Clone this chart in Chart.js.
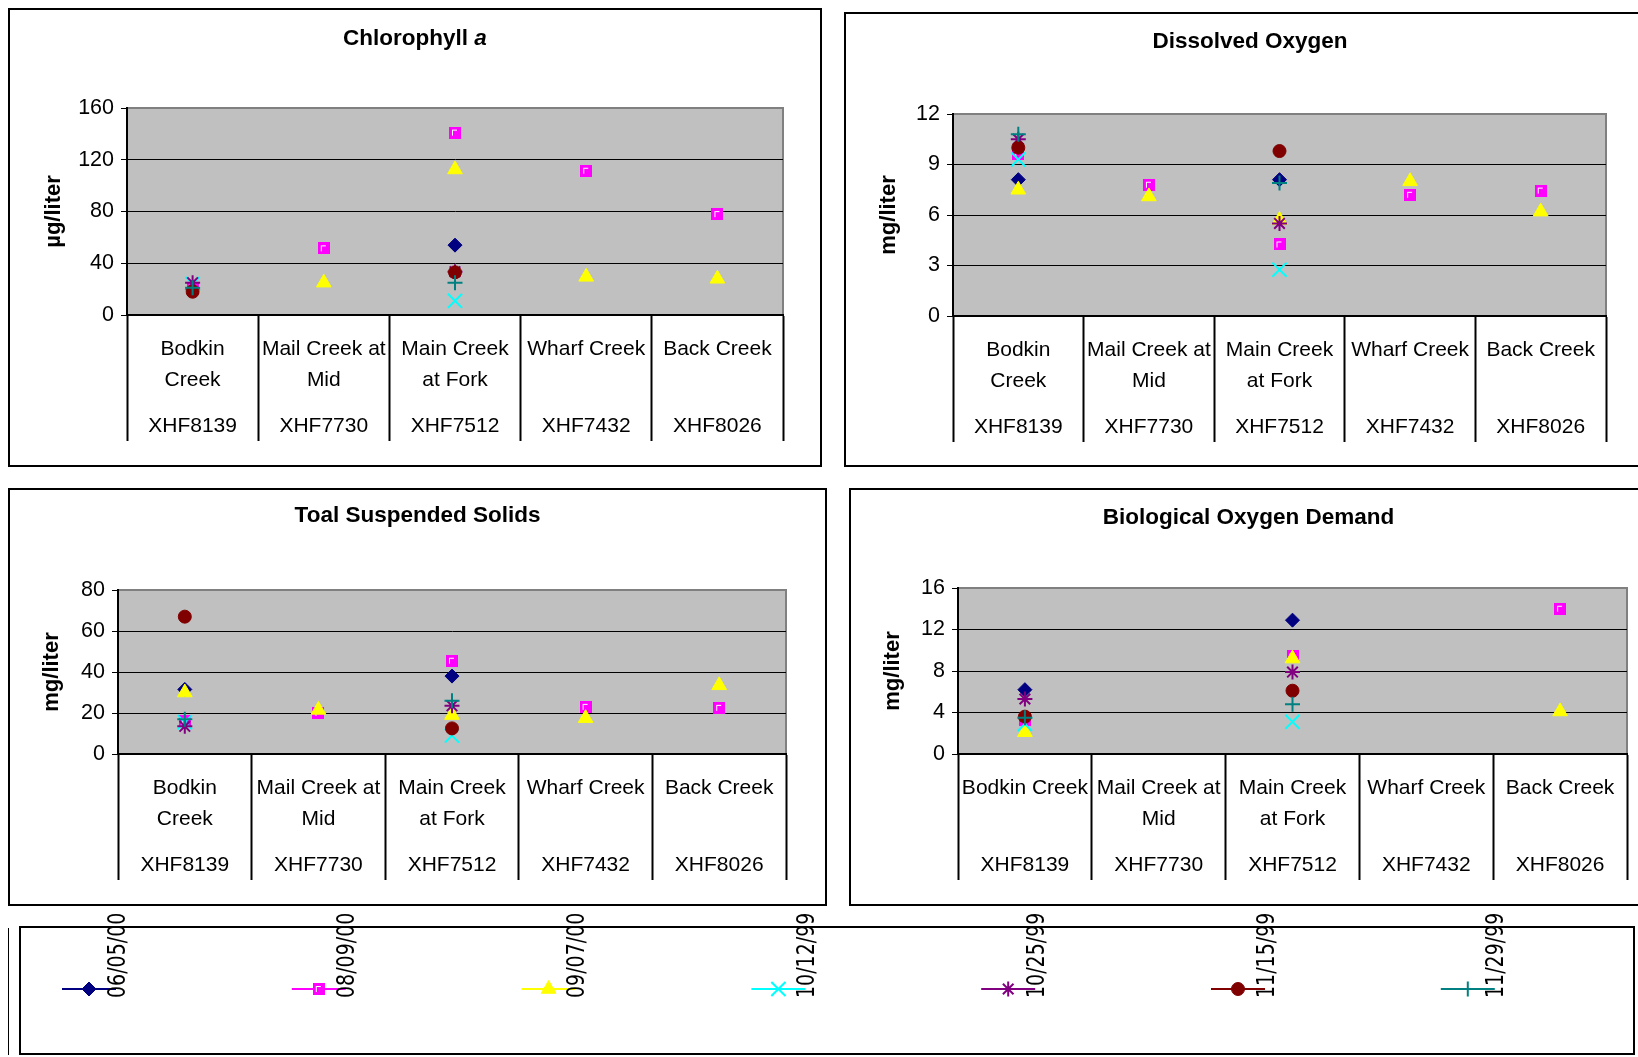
<!DOCTYPE html>
<html>
<head>
<meta charset="utf-8">
<script src="https://cdn.jsdelivr.net/npm/chart.js@4.4.1/dist/chart.umd.min.js"></script>
<style>
html, body { margin: 0; padding: 0; background: #fff; overflow: hidden; width: 1638px; height: 1057px; }
.frame { position: absolute; border: 2px solid #000; box-sizing: border-box; }
canvas { position: absolute; }
</style>
</head>
<body>
<script>
// categories
const sites = [['Bodkin', 'Creek'], ['Mail Creek at', 'Mid'], ['Main Creek', 'at Fork'], ['Wharf Creek'], ['Back Creek']];
const sitesBod = [['Bodkin Creek'], ['Mail Creek at', 'Mid'], ['Main Creek', 'at Fork'], ['Wharf Creek'], ['Back Creek']];
const siteCodes = ['XHF8139', 'XHF7730', 'XHF7512', 'XHF7432', 'XHF8026'];
const sampleDates = ['06/05/00', '08/09/00', '09/07/00', '10/12/99', '10/25/99', '11/15/99', '11/29/99'];

// one row per sample date, one column per site
const chlorophyll = [
    [20, null, 54, null, null],
    [21, 51.5, 141, 111.5, 78],
    [21, 25, 112.5, 29.5, 28],
    [24, null, 11, null, null],
    [25, null, 33.5, null, null],
    [18, null, 33, null, null],
    [21, null, 25, null, null]
];
const dissolvedOxygen = [
    [8.1, null, 8.1, null, null],
    [9.6, 7.8, 4.25, 7.2, 7.45],
    [7.5, 7.1, 5.7, 8.0, 6.2],
    [9.3, null, 2.75, null, null],
    [10.5, null, 5.5, null, null],
    [10.0, null, 9.8, null, null],
    [10.8, null, 7.9, null, null]
];
const suspendedSolids = [
    [31.5, null, 38, null, null],
    [16, 20, 45.5, 23, 22.5],
    [30, 21.5, 19, 17.5, 33.5],
    [15.5, null, 9, null, null],
    [13.5, null, 23.5, null, null],
    [67, null, 12.5, null, null],
    [17, null, 26, null, null]
];
const oxygenDemand = [
    [6.2, null, 12.9, null, null],
    [3.3, null, 9.4, null, 14],
    [2.1, null, 9.2, null, 4.1],
    [2.9, null, 3.1, null, null],
    [5.3, null, 7.9, null, null],
    [3.6, null, 6.1, null, null],
    [3.5, null, 4.8, null, null]
];

const AXIS_DEPTH = 126;
const FONT = '"Liberation Sans", Arial, sans-serif';
Chart.defaults.font.family = FONT;
Chart.defaults.color = '#000';

function squareMarker() {
    const c = document.createElement('canvas');
    c.width = 12; c.height = 12;
    const g = c.getContext('2d');
    g.fillStyle = '#ff00ff';
    g.fillRect(0, 0, 12, 12);
    g.fillStyle = '#ffffff';
    g.fillRect(3, 3, 5, 1);
    g.fillRect(3, 3, 1, 6);
    return c;
}

const seriesColors = ['#000080', '#ff00ff', '#ffff00', '#00ffff', '#800080', '#800000', '#008080'];
const seriesMarkers = ['rectRot', squareMarker(), 'triangle', 'crossRot', 'star', 'circle', 'cross'];
const markerRadius = [7, 7, 8.5, 10, 7.5, 6.5, 7.5];
const markerLine = [1, 1, 1, 2, 2, 1, 2];

function seriesFor(rows) {
    return sampleDates.map((d, i) => ({
        label: d,
        data: rows[i],
        order: sampleDates.length - i,
        showLine: false,
        borderColor: seriesColors[i],
        backgroundColor: seriesColors[i],
        pointBackgroundColor: seriesColors[i],
        pointBorderColor: seriesColors[i],
        pointStyle: seriesMarkers[i],
        pointRadius: markerRadius[i],
        pointHoverRadius: markerRadius[i],
        pointBorderWidth: markerLine[i]
    }));
}

// grey plot area
const plotBackground = {
    id: 'plotBackground',
    beforeDraw(chart) {
        const { ctx, chartArea: a } = chart;
        ctx.save();
        ctx.fillStyle = '#c0c0c0';
        ctx.fillRect(a.left, a.top, a.width, a.height);
        ctx.strokeStyle = '#808080';
        ctx.lineWidth = 2;
        ctx.strokeRect(a.left, a.top, a.width, a.height);
        ctx.restore();
    }
};

// bold title, parts can be italic
const panelTitle = {
    id: 'panelTitle',
    afterDraw(chart, args, opts) {
        const ctx = chart.ctx;
        const fonts = opts.parts.map(p => (p.italic ? 'italic ' : '') + 'bold 22.5px ' + FONT);
        ctx.save();
        ctx.textBaseline = 'middle';
        ctx.fillStyle = '#000';
        let total = 0;
        const widths = opts.parts.map((p, i) => {
            ctx.font = fonts[i];
            const w = ctx.measureText(p.text).width;
            total += w;
            return w;
        });
        let x = chart.width / 2 - total / 2;
        opts.parts.forEach((p, i) => {
            ctx.font = fonts[i];
            ctx.fillText(p.text, x, opts.y);
            x += widths[i];
        });
        ctx.restore();
    }
};

const panels = [
    { title: [{ text: 'Chlorophyll ' }, { text: 'a', italic: true }], yTitle: 'µg/liter', yMax: 160, yStep: 40,
      rows: chlorophyll, names: sites,
      box: { x: 8, y: 8, w: 814, h: 459 }, plot: { l: 127, t: 108, r: 783, b: 315 }, titleY: 39, yTitleX: 54 },
    { title: [{ text: 'Dissolved Oxygen' }], yTitle: 'mg/liter', yMax: 12, yStep: 3,
      rows: dissolvedOxygen, names: sites,
      box: { x: 844, y: 12, w: 812, h: 455 }, plot: { l: 953, t: 114, r: 1606, b: 316 }, titleY: 42, yTitleX: 889 },
    { title: [{ text: 'Toal Suspended Solids' }], yTitle: 'mg/liter', yMax: 80, yStep: 20,
      rows: suspendedSolids, names: sites,
      box: { x: 8, y: 488, w: 819, h: 418 }, plot: { l: 118, t: 590, r: 786, b: 754 }, titleY: 516, yTitleX: 52 },
    { title: [{ text: 'Biological Oxygen Demand' }], yTitle: 'mg/liter', yMax: 16, yStep: 4,
      rows: oxygenDemand, names: sitesBod,
      box: { x: 849, y: 488, w: 799, h: 418 }, plot: { l: 958, t: 588, r: 1627, b: 754 }, titleY: 518, yTitleX: 893 }
];

function panelConfig(p) {
    const labels = p.names.map((n, i) => n.length > 1
        ? [n[0], '', n[1], '', '', siteCodes[i]]
        : [n[0], '', '', '', '', siteCodes[i]]);
    return {
        type: 'line',
        data: { labels: labels, datasets: seriesFor(p.rows) },
        options: {
            responsive: false,
            animation: false,
            layout: {
                padding: {
                    top: p.plot.t - p.box.y,
                    left: 0,
                    right: p.box.x + p.box.w - p.plot.r,
                    bottom: p.box.y + p.box.h - p.plot.b - AXIS_DEPTH
                }
            },
            plugins: {
                legend: { display: false },
                tooltip: { enabled: false },
                panelTitle: { parts: p.title, y: p.titleY - p.box.y }
            },
            scales: {
                x: {
                    offset: true,
                    grid: { offset: true, drawOnChartArea: false, tickLength: AXIS_DEPTH, tickColor: '#000', tickWidth: 2 },
                    border: { color: '#000', width: 2 },
                    ticks: { autoSkip: false, maxRotation: 0, color: '#000', font: { size: 21, lineHeight: 0.73 }, padding: -99 },
                    afterFit: s => { s.height = AXIS_DEPTH; }
                },
                y: {
                    min: 0,
                    max: p.yMax,
                    grid: {
                        color: c => (c.tick && c.tick.value === p.yMax) ? '#808080' : '#000',
                        tickLength: 6,
                        tickColor: '#000',
                        lineWidth: 1
                    },
                    border: { color: '#000', width: 2 },
                    ticks: { stepSize: p.yStep, color: '#000', font: { size: 21.5 }, padding: 7 },
                    title: {
                        display: true,
                        text: p.yTitle,
                        color: '#000',
                        font: { size: 22, weight: 'bold' },
                        padding: { top: p.yTitleX - p.box.x - 13, bottom: 0 }
                    },
                    afterFit: s => { s.width = p.plot.l - p.box.x; }
                }
            }
        },
        plugins: [plotBackground, panelTitle]
    };
}

function place(el, x, y, w, h) {
    el.style.left = x + 'px';
    el.style.top = y + 'px';
    if (w !== undefined) el.style.width = w + 'px';
    if (h !== undefined) el.style.height = h + 'px';
    document.body.appendChild(el);
}

panels.forEach(p => {
    const frame = document.createElement('div');
    frame.className = 'frame';
    place(frame, p.box.x, p.box.y, p.box.w, p.box.h);
    const cv = document.createElement('canvas');
    cv.width = p.box.w;
    cv.height = p.box.h;
    place(cv, p.box.x, p.box.y);
    new Chart(cv, panelConfig(p));
});

// legend row
const legendFrame = document.createElement('div');
legendFrame.className = 'frame';
place(legendFrame, 19, 926, 1616, 129);
const thinLine = document.createElement('div');
thinLine.style.position = 'absolute';
thinLine.style.background = '#000';
place(thinLine, 8, 928, 1, 127);

const LEGEND_TOP = 900;
const dateLegend = {
    id: 'dateLegend',
    afterDraw(chart) {
        const ctx = chart.ctx;
        chart.data.datasets.forEach((ds, i) => {
            const cx = 89 + i * 229.8;
            const cy = 989 - LEGEND_TOP;
            ctx.save();
            ctx.strokeStyle = ds.borderColor;
            ctx.lineWidth = 2;
            ctx.beginPath();
            ctx.moveTo(cx - 27, cy);
            ctx.lineTo(cx + 27, cy);
            ctx.stroke();
            ctx.fillStyle = ds.pointBackgroundColor;
            ctx.strokeStyle = ds.pointBorderColor;
            ctx.lineWidth = ds.pointBorderWidth;
            Chart.helpers.drawPoint(ctx, {
                pointStyle: ds.pointStyle, radius: ds.pointRadius, rotation: 0, borderWidth: ds.pointBorderWidth
            }, cx, cy);
            ctx.translate(cx + 29, cy + 9);
            ctx.rotate(-Math.PI / 2);
            ctx.scale(1, 1.35);
            ctx.font = '19px "DejaVu Sans", sans-serif';
            ctx.fillStyle = '#000';
            ctx.textBaseline = 'middle';
            ctx.fillText(ds.label, 0, 0);
            ctx.restore();
        });
    }
};

const legendCanvas = document.createElement('canvas');
legendCanvas.width = 1638;
legendCanvas.height = 1057 - LEGEND_TOP;
place(legendCanvas, 0, LEGEND_TOP);
new Chart(legendCanvas, {
    type: 'line',
    data: { labels: [], datasets: seriesFor(sampleDates.map(() => [])) },
    options: {
        responsive: false,
        animation: false,
        plugins: { legend: { display: false }, tooltip: { enabled: false } },
        scales: { x: { display: false }, y: { display: false } }
    },
    plugins: [dateLegend]
});
</script>
</body>
</html>
